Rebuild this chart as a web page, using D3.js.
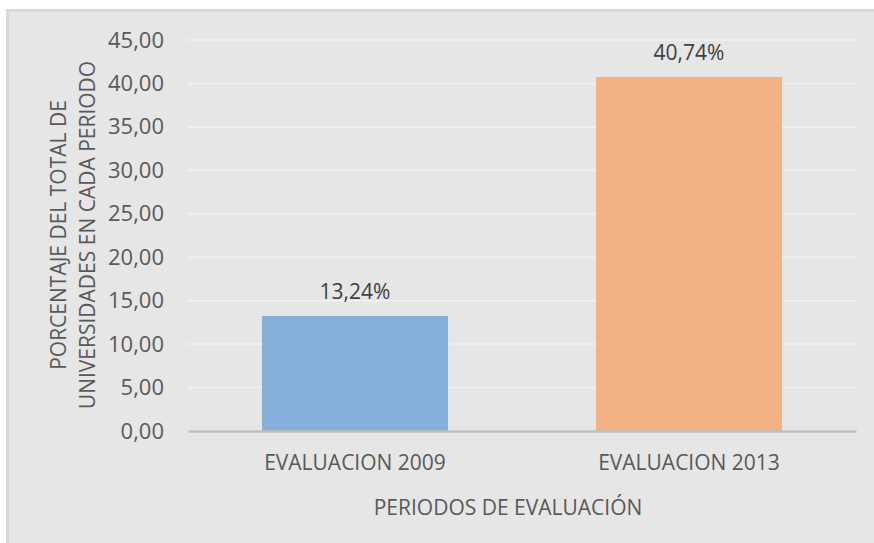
<!DOCTYPE html>
<html lang="en">
<head>
<meta charset="utf-8">
<title>Periodos de evaluación</title>
<script src="https://d3js.org/d3.v7.min.js"></script>
<style>
  body { margin: 0; background: #fff; }
  text { font-family: "Open Sans", "Noto Sans", sans-serif; }
</style>
</head>
<body>
<script>
// data
var periods = ["EVALUACION 2009", "EVALUACION 2013"];
var values = [13.24, 40.74];
var barColors = ["#85b0dc", "#f4b183"];
var yTicks = [0, 5, 10, 15, 20, 25, 30, 35, 40, 45];

var width = 874, height = 543;
var margin = {top: 40, right: 18, bottom: 112, left: 188};

var svg = d3.select("body").append("svg")
    .attr("width", width)
    .attr("height", height);

// chart area background
svg.append("rect")
    .attr("x", 7.5).attr("y", 10.5)
    .attr("width", width).attr("height", height)
    .attr("fill", "#e6e6e6")
    .attr("stroke", "#d9d9d9")
    .attr("stroke-width", 3);

var x = d3.scaleBand()
    .domain(periods)
    .range([margin.left, width - margin.right])
    .paddingInner(0.443)
    .paddingOuter(0.2215);

var y = d3.scaleLinear()
    .domain([0, 45])
    .range([height - margin.bottom, margin.top]);

var fmt = function(v) { return v.toFixed(2).replace(".", ","); };

// gridlines
svg.append("g")
    .selectAll("line")
    .data(yTicks.slice(1))
    .enter().append("line")
    .attr("x1", margin.left).attr("x2", width - margin.right)
    .attr("y1", function(d) { return y(d); })
    .attr("y2", function(d) { return y(d); })
    .attr("stroke", "#f2f2f2")
    .attr("stroke-width", 1.5);

// y axis labels
var yAxis = svg.append("g")
    .attr("transform", "translate(" + (margin.left - 10) + ",0)")
    .call(d3.axisLeft(y).tickValues(yTicks).tickFormat(fmt).tickSize(0).tickPadding(14));
yAxis.select(".domain").remove();
yAxis.selectAll("text")
    .attr("fill", "#595959")
    .style("font-size", "22px");

// bars
svg.append("g")
    .selectAll("rect")
    .data(values)
    .enter().append("rect")
    .attr("x", function(d, i) { return x(periods[i]); })
    .attr("width", x.bandwidth())
    .attr("y", function(d) { return y(d); })
    .attr("height", function(d) { return y(0) - y(d); })
    .attr("fill", function(d, i) { return barColors[i]; });

// value labels
svg.append("g")
    .selectAll("text")
    .data(values)
    .enter().append("text")
    .attr("x", function(d, i) { return x(periods[i]) + x.bandwidth() / 2; })
    .attr("y", function(d) { return y(d) - 17; })
    .attr("text-anchor", "middle")
    .attr("fill", "#404040")
    .style("font-size", "21px")
    .text(function(d) { return fmt(d) + "%"; });

// x axis
var xAxis = svg.append("g")
    .attr("transform", "translate(0," + y(0) + ")")
    .call(d3.axisBottom(x).tickSize(0).tickPadding(24));
xAxis.select(".domain")
    .attr("stroke", "#bfbfbf")
    .attr("stroke-width", 2.5);
xAxis.selectAll("text")
    .attr("fill", "#595959")
    .style("font-size", "21px");

// axis titles
svg.append("text")
    .attr("x", (margin.left + width - margin.right) / 2 - 14)
    .attr("y", 515)
    .attr("text-anchor", "middle")
    .attr("fill", "#595959")
    .style("font-size", "21px")
    .text("PERIODOS DE EVALUACIÓN");

var yTitle = svg.append("text")
    .attr("transform", "translate(0,235) rotate(-90)")
    .attr("text-anchor", "middle")
    .attr("fill", "#595959")
    .style("font-size", "21px");
yTitle.append("tspan").attr("x", 0).attr("y", 66).text("PORCENTAJE DEL TOTAL DE");
yTitle.append("tspan").attr("x", 0).attr("y", 95).text("UNIVERSIDADES EN CADA PERIODO");
</script>
</body>
</html>
